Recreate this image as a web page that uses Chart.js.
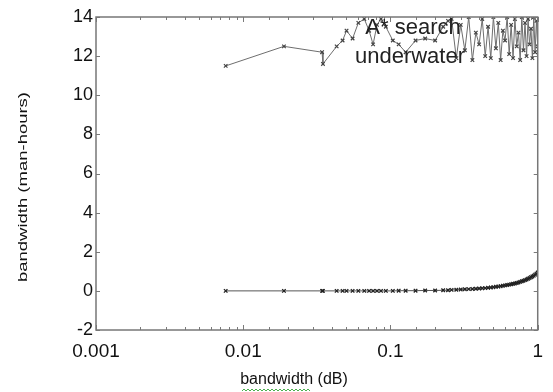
<!DOCTYPE html>
<html>
<head>
<meta charset="utf-8">
<script src="https://cdn.jsdelivr.net/npm/chart.js@4"></script>
<style>
  body { margin: 0; background: #fff; }
</style>
</head>
<body>
<canvas id="chart" width="553" height="392"></canvas>
<script>
// x positions (same sampling for both series)
const xValues = [
  0.0076, 0.0189, 0.0343, 0.0348, 0.0431, 0.0473, 0.0503, 0.0553, 0.0605, 0.0664,
  0.0716, 0.0762, 0.081, 0.0862, 0.093, 0.1037, 0.1137, 0.1268, 0.148, 0.172,
  0.201, 0.228, 0.246,
  0.26, 0.28, 0.30, 0.32, 0.34, 0.36, 0.38, 0.40, 0.42, 0.44,
  0.46, 0.48, 0.50, 0.52, 0.54, 0.56, 0.58, 0.60, 0.62, 0.64,
  0.66, 0.68, 0.70, 0.72, 0.74, 0.76, 0.78, 0.80, 0.82, 0.84,
  0.86, 0.88, 0.90, 0.92, 0.94, 0.96, 0.98, 1.0
];
const searchValues = [
  11.5, 12.5, 12.2, 11.6, 12.5, 12.8, 13.3, 12.9, 13.7, 13.9,
  13.3, 12.6, 13.6, 13.9, 13.5, 12.8, 12.6, 12.2, 12.8, 12.9,
  12.8, 13.5, 13.8,
  13.9, 11.9, 13.6, 12.3, 14.0, 11.8, 13.2, 12.6, 13.9, 12.0,
  13.5, 11.9, 14.0, 12.4, 13.7, 11.8, 13.3, 12.8, 14.0, 12.1,
  13.6, 11.9, 13.9, 12.5, 13.2, 11.8, 14.0, 12.3, 13.7, 12.0,
  13.9, 12.6, 13.4, 11.9, 14.0, 12.2, 13.8, 12.5
];
const underwaterValues = [
  0, 0, 0, 0, 0, 0, 0, 0, 0, 0,
  0, 0, 0, 0, 0, 0, 0.01, 0.01, 0.01, 0.02,
  0.02, 0.03, 0.03,
  0.05, 0.06, 0.07, 0.08, 0.09, 0.10, 0.11, 0.12, 0.13, 0.14,
  0.16, 0.17, 0.19, 0.21, 0.22, 0.24, 0.26, 0.28, 0.30, 0.32,
  0.34, 0.36, 0.38, 0.40, 0.43, 0.46, 0.49, 0.52, 0.55, 0.58,
  0.62, 0.66, 0.70, 0.74, 0.78, 0.83, 0.88, 0.94
];
const seriesNames = ["A* search", "underwater"];
const xTickLabels = ["0.001", "0.01", "0.1", "1"];
const yTicks = [-2, 0, 2, 4, 6, 8, 10, 12, 14];
const xTitle = "bandwidth (dB)";
const yTitle = "bandwidth (man-hours)";

function points(ys) {
  return xValues.map(function (x, i) { return { x: x, y: ys[i] }; });
}

function isDecade(v) {
  const l = Math.log10(v);
  return Math.abs(l - Math.round(l)) < 1e-6;
}

const frame = {
  id: "frame",
  afterDatasetsDraw(chart) {
    const ctx = chart.ctx;
    const a = chart.chartArea;
    const xs = chart.scales.x;
    const ys = chart.scales.y;
    ctx.save();
    ctx.strokeStyle = "#7a7a7a";
    ctx.lineWidth = 1;
    // inward ticks on the x edges
    xs.ticks.forEach(function (t) {
      const px = Math.round(xs.getPixelForValue(t.value)) + 0.5;
      const len = isDecade(t.value) ? 5 : 3;
      ctx.beginPath();
      ctx.moveTo(px, a.bottom); ctx.lineTo(px, a.bottom - len);
      ctx.moveTo(px, a.top); ctx.lineTo(px, a.top + len);
      ctx.stroke();
    });
    // inward ticks on the y edges
    ys.ticks.forEach(function (t) {
      const py = Math.round(ys.getPixelForValue(t.value)) + 0.5;
      ctx.beginPath();
      ctx.moveTo(a.left, py); ctx.lineTo(a.left + 4, py);
      ctx.moveTo(a.right, py); ctx.lineTo(a.right - 4, py);
      ctx.stroke();
    });
    ctx.lineWidth = 1.5;
    ctx.strokeStyle = "#777";
    ctx.strokeRect(a.left, a.top, a.right - a.left, a.bottom - a.top);

    // legend text, no sample lines
    ctx.fillStyle = "#222";
    ctx.font = "22px 'Liberation Sans', Arial, sans-serif";
    ctx.textAlign = "center";
    ctx.textBaseline = "middle";
    ctx.fillText(seriesNames[0], 413, 28);
    ctx.fillText(seriesNames[1], 410, 57);

    // x title (sits left of the plot centre in the source)
    ctx.font = "16px 'Liberation Sans', Arial, sans-serif";
    ctx.fillStyle = "#111";
    ctx.fillText(xTitle, 294, 380);

    // y title, a bit stretched like the source
    ctx.save();
    ctx.font = "13px 'Liberation Sans', Arial, sans-serif";
    const w = ctx.measureText(yTitle).width;
    ctx.translate(23, 187);
    ctx.rotate(-Math.PI / 2);
    ctx.scale(190 / w, 1);
    ctx.fillText(yTitle, 0, 0);
    ctx.restore();

    // spell-check squiggle under the first word of the x title
    ctx.strokeStyle = "#4caf50";
    ctx.lineWidth = 1;
    ctx.beginPath();
    for (let x = 242; x <= 310; x += 2) {
      const y = 390 + ((x / 2) % 2 === 0 ? -1 : 1);
      if (x === 242) ctx.moveTo(x, y); else ctx.lineTo(x, y);
    }
    ctx.stroke();
    ctx.restore();
  }
};

new Chart(document.getElementById("chart"), {
  type: "line",
  data: {
    datasets: [
      {
        label: seriesNames[0],
        data: points(searchValues),
        borderColor: "#6e6e6e",
        borderWidth: 1,
        pointStyle: "crossRot",
        pointRadius: 2.5,
        pointBorderColor: "#444",
        pointBorderWidth: 1.2,
        tension: 0,
      },
      {
        label: seriesNames[1],
        data: points(underwaterValues),
        borderColor: "#555",
        borderWidth: 1,
        pointStyle: "crossRot",
        pointRadius: 2.5,
        pointBorderColor: "#222",
        pointBorderWidth: 1.3,
        tension: 0,
      },
    ],
  },
  options: {
    responsive: false,
    animation: false,
    layout: { padding: { top: 17, right: 8, left: 0, bottom: 0 } },
    plugins: { legend: { display: false }, tooltip: { enabled: false } },
    scales: {
      x: {
        type: "logarithmic",
        min: 0.001,
        max: 1,
        grid: { display: false, drawTicks: false },
        border: { display: false },
        afterFit: function (s) { s.height = 62; },
        ticks: {
          autoSkip: false,
          maxRotation: 0,
          padding: 10,
          color: "#111",
          font: { family: "'Liberation Sans', Arial, sans-serif", size: 19 },
          callback: function (v) {
            if (!isDecade(v)) return "";
            return xTickLabels[Math.round(Math.log10(v)) + 3];
          },
        },
      },
      y: {
        min: -2,
        max: 14,
        grid: { display: false, drawTicks: false },
        border: { display: false },
        afterFit: function (s) { s.width = 96; },
        afterBuildTicks: function (s) {
          s.ticks = yTicks.map(function (v) { return { value: v }; });
        },
        ticks: {
          padding: 3,
          color: "#111",
          font: { family: "'Liberation Sans', Arial, sans-serif", size: 18 },
        },
      },
    },
  },
  plugins: [frame],
});
</script>
</body>
</html>
